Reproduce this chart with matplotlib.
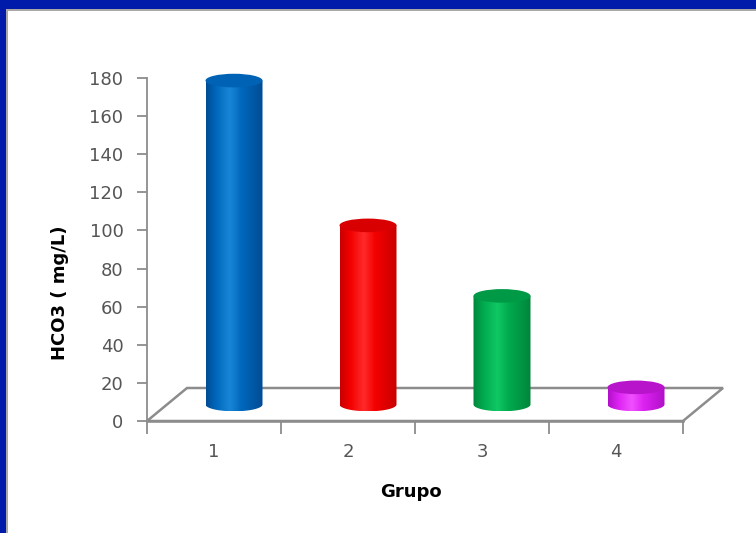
import numpy as np
import matplotlib
matplotlib.use("Agg")
import matplotlib.pyplot as plt
from matplotlib.patches import Rectangle, Ellipse, PathPatch, Polygon
from matplotlib.path import Path
from matplotlib.colors import LinearSegmentedColormap

# Data
grupos = ["1", "2", "3", "4"]
hco3 = [170, 94, 57, 9]
y_ticks = [0, 20, 40, 60, 80, 100, 120, 140, 160, 180]

# Cylinder colours: (edge shade, mid tone, highlight, top face)
palette = [
    ("#004C94", "#0068BC", "#1A86D8", "#0062B4"),
    ("#C80000", "#F40000", "#FF2A2A", "#D80000"),
    ("#00853C", "#00AA4E", "#10C864", "#009A46"),
    ("#B010C8", "#DD22F2", "#F050FF", "#B814CC"),
]

W, H = 756, 533
fig = plt.figure(figsize=(W / 100, H / 100), dpi=100)
fig.patch.set_facecolor("white")

# Window frame: blue band along the top and left, with a thin grey bevel
fig.patches.append(Rectangle((0, (H - 9) / H), 1, 9 / H, transform=fig.transFigure,
                             facecolor="#001BAA", edgecolor="none", zorder=0))
fig.patches.append(Rectangle((0, 0), 6 / W, 1, transform=fig.transFigure,
                             facecolor="#001BAA", edgecolor="none", zorder=0))
fig.patches.append(Rectangle((6 / W, (H - 10.5) / H), 1, 1.5 / H, transform=fig.transFigure,
                             facecolor="#A8A8A8", edgecolor="none", zorder=0))
fig.patches.append(Rectangle((6 / W, 0), 1.5 / W, (H - 9) / H, transform=fig.transFigure,
                             facecolor="#A8A8A8", edgecolor="none", zorder=0))

# Front plane of the 3D box
x0, x1 = 147, 683
y0, y1 = 421, 78
ax = fig.add_axes([x0 / W, (H - y0) / H, (x1 - x0) / W, (y0 - y1) / H])
ax.set_xlim(0.5, 4.5)
ax.set_ylim(0, 180)
ax.patch.set_alpha(0)

px_x = (x1 - x0) / 4.0
px_y = (y0 - y1) / 180.0
depth_dx = 40 / px_x
depth_dy = 33 / px_y

grey = "#8C8C8C"
for s in ["top", "right"]:
    ax.spines[s].set_visible(False)
ax.spines["left"].set_color(grey)
ax.spines["bottom"].set_color(grey)
ax.spines["left"].set_linewidth(1.3)
ax.spines["bottom"].set_linewidth(1.8)

ax.set_yticks(y_ticks)
ax.set_yticklabels([str(v) for v in y_ticks])
ax.tick_params(axis="y", direction="out", length=7, width=1.3, color=grey,
               labelsize=13, labelcolor="#555555", pad=10)

ax.set_xticks([0.5, 1.5, 2.5, 3.5, 4.5])
ax.set_xticklabels([])
ax.set_xticks([1, 2, 3, 4], minor=True)
ax.set_xticklabels(grupos, minor=True)
ax.tick_params(axis="x", which="major", direction="out", length=9, width=1.3, color=grey)
ax.tick_params(axis="x", which="minor", length=0, labelsize=13,
               labelcolor="#555555", pad=16)

# Floor of the box
floor = Polygon([(0.5, 0), (4.5, 0), (4.5 + depth_dx, depth_dy), (0.5 + depth_dx, depth_dy)],
                closed=True, facecolor="white", edgecolor=grey, linewidth=1.8,
                clip_on=False, zorder=1)
ax.add_patch(floor)

# Cylinders
half_w = 28.5 / px_x
ey = 6.8 / px_y
base = depth_dy / 2
for i, (val, cols) in enumerate(zip(hco3, palette)):
    xc = i + 1 + depth_dx / 2
    top = base + val
    edge, mid, hi, topc = cols
    cmap = LinearSegmentedColormap.from_list(
        "c%d" % i, [(0.0, edge), (0.18, mid), (0.42, hi), (0.62, mid), (1.0, edge)])

    # side silhouette: rectangle with a rounded front-bottom edge
    t = np.linspace(np.pi, 2 * np.pi, 40)
    verts = [(xc - half_w, top)]
    verts += [(xc + half_w * np.cos(a), base + ey * np.sin(a)) for a in t]
    verts += [(xc + half_w, top), (xc - half_w, top)]
    side = PathPatch(Path(verts, closed=False), facecolor="none", edgecolor="none",
                     clip_on=False)
    ax.add_patch(side)
    grad = np.linspace(0, 1, 256).reshape(1, -1)
    im = ax.imshow(grad, cmap=cmap, aspect="auto", interpolation="bicubic",
                   extent=[xc - half_w, xc + half_w, base - ey, top],
                   zorder=3, clip_on=True)
    im.set_clip_path(side)

    cap = Ellipse((xc, top), 2 * half_w, 2 * ey, facecolor=topc, edgecolor="none",
                  zorder=4, clip_on=False)
    ax.add_patch(cap)

ax.set_xlim(0.5, 4.5)
ax.set_ylim(0, 180)

fig.text(411 / W, (H - 492) / H, "Grupo", ha="center", va="center",
         fontsize=13, fontweight="bold", color="black")
fig.text(60 / W, (H - 293) / H, "HCO3 ( mg/L)", ha="center", va="center",
         rotation=90, fontsize=13, fontweight="bold", color="black")

fig.savefig("out.png", dpi=100)
